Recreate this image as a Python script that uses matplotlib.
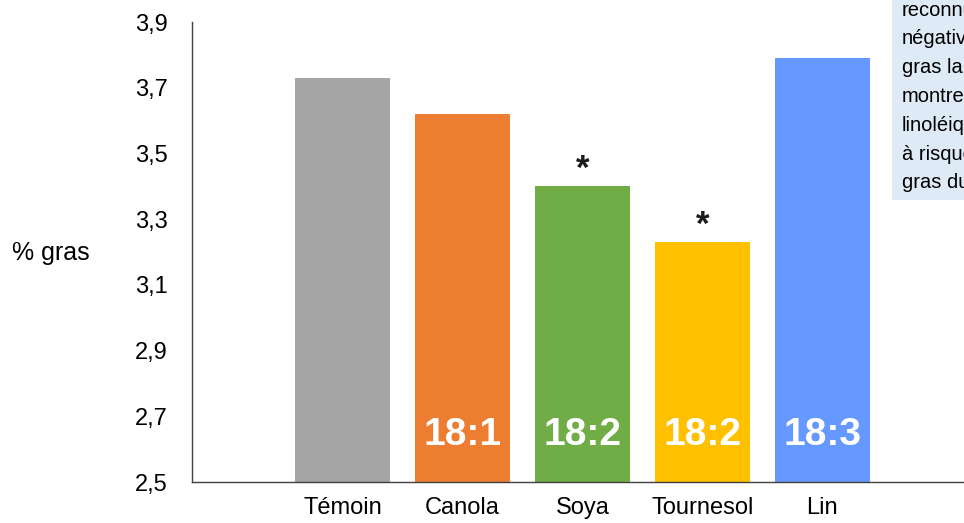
import matplotlib
matplotlib.use("Agg")
import matplotlib.pyplot as plt
from matplotlib.patches import Rectangle
from matplotlib.ticker import FuncFormatter

plt.rcParams['font.family'] = ['Liberation Sans', 'DejaVu Sans']

# % de gras du lait selon la source d'huile
traitements = ["Témoin", "Canola", "Soya", "Tournesol", "Lin"]
gras = [3.73, 3.62, 3.40, 3.23, 3.79]
acides = ["", "18:1", "18:2", "18:2", "18:3"]
signif = [False, False, True, True, False]
couleurs = ["#A5A5A5", "#ED7D31", "#70AD47", "#FFC000", "#6699FF"]
yticks = [2.5, 2.7, 2.9, 3.1, 3.3, 3.5, 3.7, 3.9]
encadre = ["reconnu", "négativement", "gras laitier", "montre",
           "linoléique", "à risque", "gras du lait"]

fig = plt.figure(figsize=(9.64, 5.23), dpi=100)
ax = fig.add_axes([192 / 964, 41 / 523, 772 / 964, 460 / 523])

x = range(len(traitements))
ax.bar(x, gras, width=0.79, color=couleurs)

for i, (v, a, s) in enumerate(zip(gras, acides, signif)):
    if a:
        ax.text(i, 2.643, a, ha="center", va="center", color="white",
                fontsize=28, fontweight="bold")
    if s:
        # astérisque de signification au-dessus de la barre
        ax.text(i, v + 0.022, "*", ha="center", va="baseline",
                fontsize=25, fontweight="bold", color="#1a1a1a")

ax.set_xlim(-1.254, 5.18)
ax.set_ylim(2.5, 3.9)
ax.set_yticks(yticks)
ax.yaxis.set_major_formatter(FuncFormatter(lambda v, p: f"{v:.1f}".replace(".", ",")))
ax.set_xticks(list(x))
ax.set_xticklabels(traitements)
ax.tick_params(length=0, labelsize=17, colors="black")
ax.tick_params(axis="y", pad=17.5)
ax.tick_params(axis="x", pad=11)

for side in ["top", "right"]:
    ax.spines[side].set_visible(False)
for side in ["left", "bottom"]:
    ax.spines[side].set_color("#404040")
    ax.spines[side].set_linewidth(1.0)

fig.text(12 / 964, 1 - 253 / 523, "% gras", ha="left", va="center", fontsize=18)

# encadré explicatif coupé en bord droit
fig.patches.append(Rectangle((892 / 964, 1 - 200 / 523), 80 / 964, 200 / 523,
                             transform=fig.transFigure, facecolor="#DEEBF7",
                             edgecolor="none", zorder=0))
for k, ligne in enumerate(encadre):
    fig.text(902 / 964, 1 - (10 + k * 28.8) / 523, ligne, ha="left", va="center",
             fontsize=14.5, color="black")

fig.savefig("out.png", dpi=100)
